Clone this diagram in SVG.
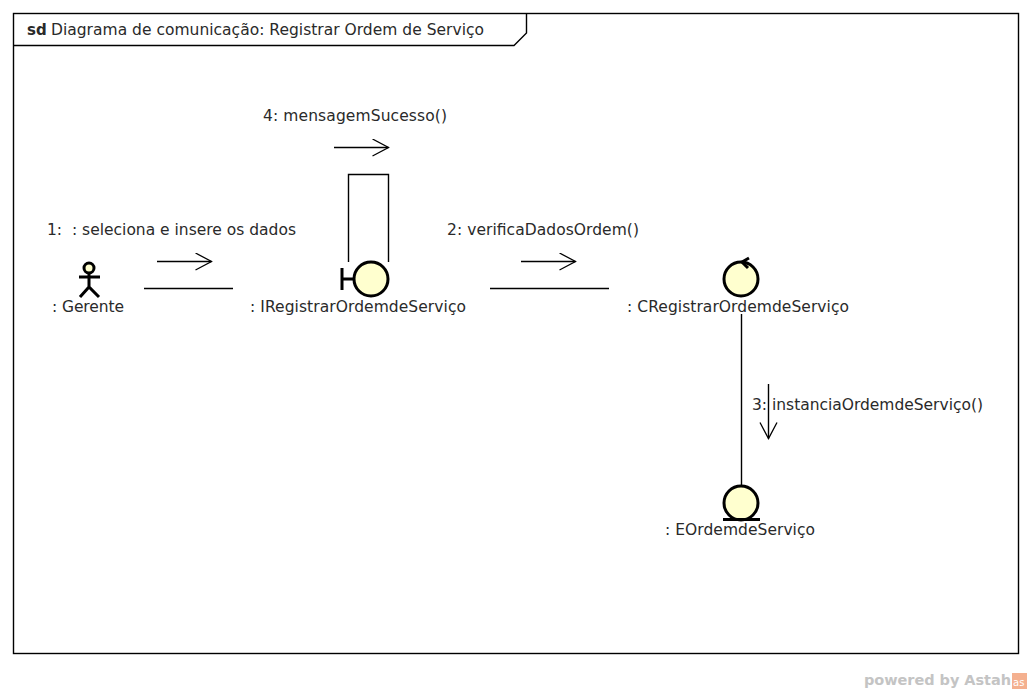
<svg xmlns="http://www.w3.org/2000/svg" width="1032" height="693" viewBox="0 0 1032 693">
<style>
text{font-family:"DejaVu Sans",sans-serif;font-size:15.5px;fill:#2a2a2a;white-space:pre}
.l{fill:none;stroke:#000;stroke-width:1.4}
.n{fill:#ffffcf;stroke:#000;stroke-width:3}
.b{fill:none;stroke:#000;stroke-width:3}
</style>
<defs><marker id="a" markerWidth="20" markerHeight="20" refX="17" refY="9" orient="auto" markerUnits="userSpaceOnUse"><path d="M1 .5L17 9L1 17.500" fill="none" stroke="#000" stroke-width="1.3"/></marker></defs>
<rect width="1032" height="693" fill="#fff"/>
<g id="frame">
<rect x="13.500" y="13.500" width="1005" height="640" fill="none" stroke="#000" stroke-width="1.4"/>
<path class="l" d="M13.500 45.500H514L526.500 33V13.500"/>
<text x="27" y="35" style="font-weight:700;font-size:15px">sd</text>
<text x="51" y="35" textLength="433" lengthAdjust="spacing">Diagrama de comunicação: Registrar Ordem de Serviço</text>
</g>
<g id="connectors">
<path class="l" d="M144 288.500H233"/>
<path class="l" d="M490 288.500H609"/>
<path class="l" d="M348.500 262V174.500H388.500V262"/>
<path class="l" d="M741.500 314V487"/>
<path class="l" marker-end="url(#a)" d="M157 261.500H211.500"/>
<path class="l" marker-end="url(#a)" d="M521 261.500H575.500"/>
<path class="l" marker-end="url(#a)" d="M334 147.500H388.500"/>
<path class="l" marker-end="url(#a)" d="M768.500 384V438.500"/>
<text x="47" y="235" textLength="249" lengthAdjust="spacing">1:  : seleciona e insere os dados</text>
<text x="447" y="235" textLength="192" lengthAdjust="spacing">2: verificaDadosOrdem()</text>
<text x="752" y="410" textLength="231" lengthAdjust="spacing">3: instanciaOrdemdeServiço()</text>
<text x="263" y="121" textLength="184" lengthAdjust="spacing">4: mensagemSucesso()</text>
</g>
<g id="gerente">
<circle class="n" cx="89" cy="268" r="5"/>
<path class="b" d="M89 273V287M79 277H100M80 297L89 287L99 297"/>
<text x="52" y="312" textLength="72" lengthAdjust="spacing">: Gerente</text>
</g>
<g id="iregistrar">
<path class="b" d="M342 268V290M342 279H354"/>
<circle class="n" cx="371" cy="279" r="17"/>
<text x="250" y="312" textLength="216" lengthAdjust="spacing">: IRegistrarOrdemdeServiço</text>
</g>
<g id="cregistrar">
<circle class="n" cx="741" cy="279" r="17"/>
<path class="b" d="M749 258L742 262L748 268" stroke-width="2.500"/>
<text x="627" y="312" textLength="222" lengthAdjust="spacing">: CRegistrarOrdemdeServiço</text>
</g>
<g id="eordem">
<circle class="n" cx="741" cy="503" r="17"/>
<path class="b" d="M723 519.500H760"/>
<text x="665" y="535" textLength="150" lengthAdjust="spacing">: EOrdemdeServiço</text>
</g>
<g id="watermark">
<text x="864" y="685" textLength="147" lengthAdjust="spacing" style="font-size:14.500px;font-weight:700;fill:#c4c4c4">powered by Astah</text>
<rect x="1012" y="673" width="15" height="16" fill="#f4b08f"/>
<text x="1013" y="686" style="font-size:10px;fill:#fff">as</text>
</g>
</svg>
